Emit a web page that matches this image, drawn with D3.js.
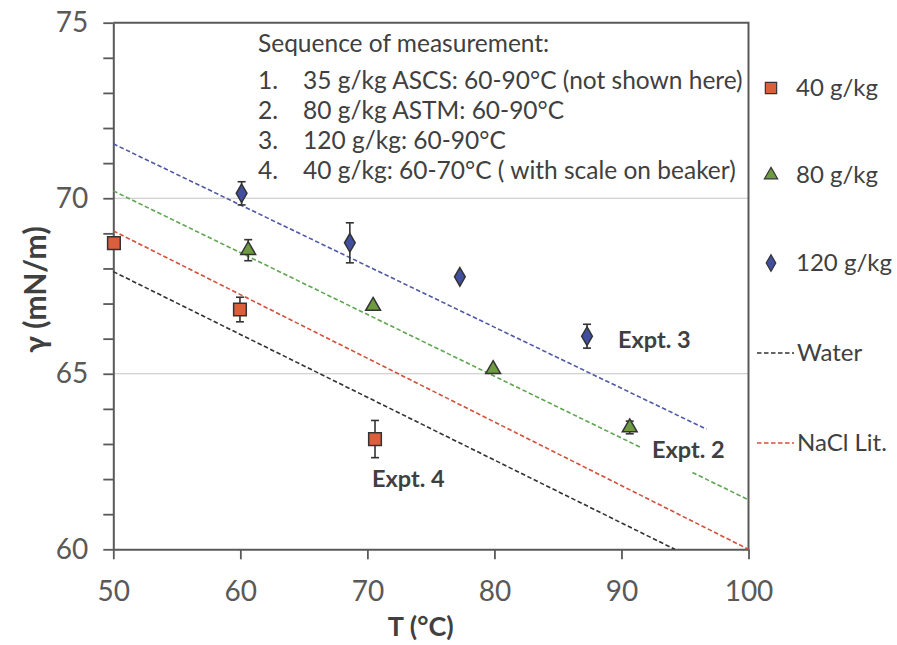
<!DOCTYPE html>
<html>
<head>
<meta charset="utf-8">
<script src="https://cdn.jsdelivr.net/npm/d3@7"></script>
<style>
  body { margin: 0; background: #fff; }
  svg { display: block; font-family: Lato, "Open Sans", sans-serif; }
</style>
</head>
<body>
<div id="viz"></div>
<script>
const temp40 = [50.05, 59.97, 70.6];
const gamma40 = [68.72, 66.83, 63.14];
const err40 = [0, 0.35, 0.53];

const temp80 = [60.62, 70.45, 79.9, 90.65];
const gamma80 = [68.52, 66.93, 65.13, 63.47];
const err80 = [0.3, 0, 0, 0.18];

const temp120 = [60.1, 68.62, 77.28, 87.29];
const gamma120 = [70.14, 68.73, 67.76, 66.07];
const err120 = [0.33, 0.57, 0, 0.34];

// dashed fit / reference lines (end points)
const fit120 = [[50, 71.55], [96.7, 63.42]];
const fit80 = [[50, 70.21], [100, 61.41]];
const naclLit = [[50, 69.07], [100, 60]];
const water = [[50, 67.91], [94.2, 60]];

const xTicks = [50, 60, 70, 80, 90, 100];
const yTicks = d3.range(60, 76, 1);
const yLabels = [60, 65, 70, 75];
const gridValues = [65, 70];

const legendLabels = ["40 g/kg", "80 g/kg", "120 g/kg", "Water", "NaCl Lit."];
const noteLines = [
    ["1.", "35 g/kg ASCS: 60-90°C (not shown here)"],
    ["2.", "80 g/kg ASTM: 60-90°C"],
    ["3.", "120 g/kg: 60-90°C"],
    ["4.", "40 g/kg: 60-70°C  ( with scale on beaker)"]];

const width = 897, height = 645;
const margin = { top: 22.7, right: 148.5, bottom: 95.7, left: 113.3 };

const colors = { c40: "#dc5f3b", c80: "#6f9b40", c120: "#424e9e", water: "#333333", nacl: "#d4503c", fit80: "#5fa650", fit120: "#4f5aa6" };
const axisColor = "#595959";
const textColor = "#404040";

const svg = d3.select("#viz").append("svg")
    .attr("width", width).attr("height", height);
svg.append("rect").attr("width", width).attr("height", height).attr("fill", "#fff");

const x = d3.scaleLinear().domain([50, 100]).range([margin.left, width - margin.right]);
const y = d3.scaleLinear().domain([60, 75]).range([height - margin.bottom, margin.top]);

// gridlines
svg.append("g").selectAll("line").data(gridValues).join("line")
    .attr("x1", x(50)).attr("x2", x(100))
    .attr("y1", d => y(d)).attr("y2", d => y(d))
    .attr("stroke", "#c4c4c4").attr("stroke-width", 1.2);

// frame top + right
svg.append("path")
    .attr("d", `M${x(50)},${y(75)}H${x(100)}V${y(60)}`)
    .attr("fill", "none").attr("stroke", axisColor).attr("stroke-width", 2);

// axes
const xAxis = d3.axisBottom(x).tickValues(xTicks).tickSizeInner(10).tickSizeOuter(0).tickPadding(22);
const yAxis = d3.axisLeft(y).tickValues(yTicks).tickSizeInner(10).tickSizeOuter(0).tickPadding(15)
    .tickFormat(d => yLabels.includes(d) ? d : "");

const xAxisG = svg.append("g").attr("transform", `translate(0,${y(60)})`).call(xAxis);
const yAxisG = svg.append("g").attr("transform", `translate(${x(50)},0)`).call(yAxis);

[xAxisG, yAxisG].forEach(g => {
    g.select(".domain").attr("stroke", axisColor).attr("stroke-width", 2);
    g.selectAll(".tick line").attr("stroke", axisColor).attr("stroke-width", 1.8);
    g.selectAll(".tick text").attr("fill", axisColor).attr("font-size", 28)
        .attr("font-family", "Lato, sans-serif");
});

// dashed lines
const line = d3.line().x(d => x(d[0])).y(d => y(d[1]));
const dashed = [[fit120, colors.fit120], [fit80, colors.fit80], [naclLit, colors.nacl], [water, colors.water]];
svg.append("g").selectAll("path").data(dashed).join("path")
    .attr("d", d => line(d[0]))
    .attr("fill", "none")
    .attr("stroke", d => d[1])
    .attr("stroke-width", 1.6)
    .attr("stroke-dasharray", "4.5 2.5");

// labels for experiments
const exptG = svg.append("g").attr("font-weight", 700).attr("font-size", 23.5).attr("fill", textColor);
exptG.append("rect").attr("x", 641).attr("y", 433).attr("width", 100).attr("height", 39).attr("fill", "#fff");
exptG.append("text").attr("x", 618).attr("y", 348).text("Expt. 3");
exptG.append("text").attr("x", 652).attr("y", 458).text("Expt. 2");
exptG.append("text").attr("x", 372).attr("y", 487).text("Expt. 4");

// series
const series = [
    { t: temp40, g: gamma40, e: err40, color: colors.c40, sym: d3.symbolSquare, size: 160 },
    { t: temp80, g: gamma80, e: err80, color: colors.c80, sym: d3.symbolTriangle, size: 95 },
    { t: temp120, g: gamma120, e: err120, color: colors.c120, sym: d3.symbolDiamond, size: 100 }
];

series.forEach(s => {
    const pts = s.t.map((t, i) => ({ t, g: s.g[i], e: s.e[i] }));
    const gs = svg.append("g");
    const eb = gs.selectAll(".err").data(pts.filter(p => p.e > 0)).join("g").attr("class", "err")
        .attr("stroke", "#333").attr("stroke-width", 1.6);
    eb.append("line").attr("x1", d => x(d.t)).attr("x2", d => x(d.t))
        .attr("y1", d => y(d.g - d.e)).attr("y2", d => y(d.g + d.e));
    eb.append("line").attr("x1", d => x(d.t) - 4).attr("x2", d => x(d.t) + 4)
        .attr("y1", d => y(d.g - d.e)).attr("y2", d => y(d.g - d.e));
    eb.append("line").attr("x1", d => x(d.t) - 4).attr("x2", d => x(d.t) + 4)
        .attr("y1", d => y(d.g + d.e)).attr("y2", d => y(d.g + d.e));
    gs.selectAll(".pt").data(pts).join("path").attr("class", "pt")
        .attr("transform", d => `translate(${x(d.t)},${y(d.g)})`)
        .attr("d", d3.symbol(s.sym, s.size))
        .attr("fill", s.color).attr("stroke", "#333").attr("stroke-width", 1.5);
});

// note box text
const note = svg.append("g").attr("font-size", 24.5).attr("fill", textColor).style("white-space", "pre");
note.append("text").attr("x", 258).attr("y", 52).text("Sequence of measurement:");
noteLines.forEach((d, i) => {
    note.append("text").attr("x", 258).attr("y", 89 + i * 30).text(d[0]);
    note.append("text").attr("x", 303).attr("y", 89 + i * 30).text(d[1]);
});

// legend
const leg = svg.append("g").attr("font-size", 24).attr("fill", textColor);
const legY = [88, 175, 263, 353, 443];
series.forEach((s, i) => {
    leg.append("path").attr("transform", `translate(771,${legY[i]})`)
        .attr("d", d3.symbol(s.sym, s.size * 0.8))
        .attr("fill", s.color).attr("stroke", "#333").attr("stroke-width", 1.2);
    leg.append("text").attr("x", 796).attr("y", legY[i]).attr("dy", "0.35em").text(legendLabels[i]);
});
[[colors.water, 3], [colors.nacl, 4]].forEach(([c, i]) => {
    leg.append("line").attr("x1", 757).attr("x2", 794).attr("y1", legY[i]).attr("y2", legY[i])
        .attr("stroke", c).attr("stroke-width", 1.6).attr("stroke-dasharray", "4.5 2.5");
    leg.append("text").attr("x", 797).attr("y", legY[i]).attr("dy", "0.35em").text(legendLabels[i]);
});

// axis titles
svg.append("text").attr("x", x(74.2)).attr("y", 636)
    .attr("text-anchor", "middle").attr("font-weight", 700).attr("font-size", 27).attr("fill", textColor)
    .text("T (°C)");
svg.append("text").attr("transform", `translate(46,${y(67.4)}) rotate(-90)`)
    .attr("text-anchor", "middle").attr("font-weight", 700).attr("font-size", 30).attr("fill", textColor)
    .text("γ (mN/m)");
</script>
</body>
</html>
